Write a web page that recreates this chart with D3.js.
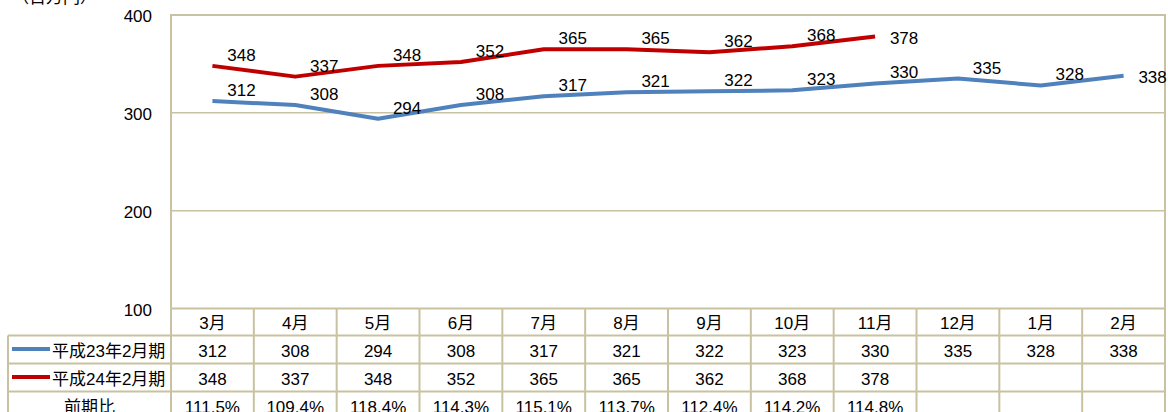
<!DOCTYPE html>
<html>
<head>
<meta charset="utf-8">
<script src="https://cdn.jsdelivr.net/npm/d3@7"></script>
<style>
  body { margin: 0; background: #fff; }
  text { font-family: "Liberation Sans", Arial, "Noto Sans CJK JP", sans-serif; fill: #000; font-size: 17px; }
</style>
</head>
<body>
<div id="chart"></div>
<script>
// data
const months = ["3月","4月","5月","6月","7月","8月","9月","10月","11月","12月","1月","2月"];
const prevName = "平成23年2月期", curName = "平成24年2月期", ratioName = "前期比";
const prev = [312, 308, 294, 308, 317, 321, 322, 323, 330, 335, 328, 338];
const cur = [348, 337, 348, 352, 365, 365, 362, 368, 378];
const ratio = ["111.5%","109.4%","118.4%","114.3%","115.1%","113.7%","112.4%","114.2%","114.8%"];
const yTicks = [100, 200, 300, 400];
const unit = "（百万円）";

const W = 1168, H = 412,
  pLeft = 171, pRight = 1165, pTop = 15, pBottom = 308.5,
  tableLeft = 8, rowH = 28,
  grid = "#c9c2a2", blue = "#4f81bd", red = "#c00000";

const svg = d3.select("#chart").append("svg")
  .attr("width", W).attr("height", H);

const x = d3.scaleBand().domain(months).range([pLeft, pRight]);
const y = d3.scaleLinear().domain([100, 400]).range([pBottom, pTop]);
const cx = m => x(m) + x.bandwidth() / 2;

// unit label (cut at top like the original)
svg.append("text").attr("x", 12).attr("y", 3).text(unit);

// gridlines + ticks
svg.selectAll(".grid").data(yTicks.filter(d => d > 100 && d < 400)).join("line")
  .attr("x1", pLeft).attr("x2", pRight)
  .attr("y1", d => y(d)).attr("y2", d => y(d))
  .attr("stroke", grid).attr("stroke-width", 1.5);

svg.selectAll(".tick").data(yTicks).join("text")
  .attr("x", 152).attr("y", d => y(d) + 7)
  .attr("text-anchor", "end")
  .text(d => d);

// plot frame: left, top, right
svg.append("path")
  .attr("d", `M${pLeft},${pBottom}V${pTop}H${pRight}V${H}`)
  .attr("fill", "none").attr("stroke", grid).attr("stroke-width", 2);

// lines
const line = d3.line().x((d, i) => cx(months[i])).y(d => y(d));
[[prev, blue], [cur, red]].forEach(([vals, col]) => {
  svg.append("path").datum(vals)
    .attr("d", line)
    .attr("fill", "none").attr("stroke", col)
    .attr("stroke-width", 4).attr("stroke-linejoin", "round");

  // labels sit up-right of the point; the last one is centred to its right
  svg.append("g").selectAll("text").data(vals).join("text")
    .attr("x", (d, i) => cx(months[i]) + 29)
    .attr("y", (d, i) => y(d) + (i === vals.length - 1 ? 7 : -5))
    .attr("text-anchor", "middle")
    .text(d => d);
});

// data table
const rowTop = i => pBottom + rowH * i;
const tbl = svg.append("g");

tbl.append("line").attr("x1", pLeft).attr("x2", pRight)
  .attr("y1", pBottom).attr("y2", pBottom)
  .attr("stroke", grid).attr("stroke-width", 2);
[1, 2, 3].forEach(i => {
  tbl.append("line").attr("x1", tableLeft).attr("x2", pRight)
    .attr("y1", rowTop(i) - 1).attr("y2", rowTop(i) - 1)
    .attr("stroke", grid).attr("stroke-width", 2);
});
tbl.append("line").attr("x1", tableLeft).attr("x2", tableLeft)
  .attr("y1", rowTop(1) - 1).attr("y2", H)
  .attr("stroke", grid).attr("stroke-width", 2);
tbl.selectAll(".v").data(months.slice(1)).join("line")
  .attr("x1", d => x(d)).attr("x2", d => x(d))
  .attr("y1", pBottom).attr("y2", H)
  .attr("stroke", grid).attr("stroke-width", 2);
tbl.append("line").attr("x1", pLeft).attr("x2", pLeft)
  .attr("y1", pBottom).attr("y2", H)
  .attr("stroke", grid).attr("stroke-width", 2);

const cellRow = (vals, i) => tbl.append("g").selectAll("text").data(vals).join("text")
  .attr("x", (d, j) => cx(months[j]))
  .attr("y", rowTop(i) + 20.5)
  .attr("text-anchor", "middle")
  .text(d => d);

cellRow(months, 0);
cellRow(prev, 1);
cellRow(cur, 2);
cellRow(ratio, 3);

// row headers with legend keys
[[prevName, blue, 1], [curName, red, 2]].forEach(([name, col, i]) => {
  tbl.append("line").attr("x1", 12).attr("x2", 50)
    .attr("y1", rowTop(i) + 12.5).attr("y2", rowTop(i) + 12.5)
    .attr("stroke", col).attr("stroke-width", 4);
  tbl.append("text").attr("x", 52).attr("y", rowTop(i) + 20.5).text(name);
});
tbl.append("text").attr("x", (tableLeft + pLeft) / 2).attr("y", rowTop(3) + 20.5)
  .attr("text-anchor", "middle").text(ratioName);
</script>
</body>
</html>
